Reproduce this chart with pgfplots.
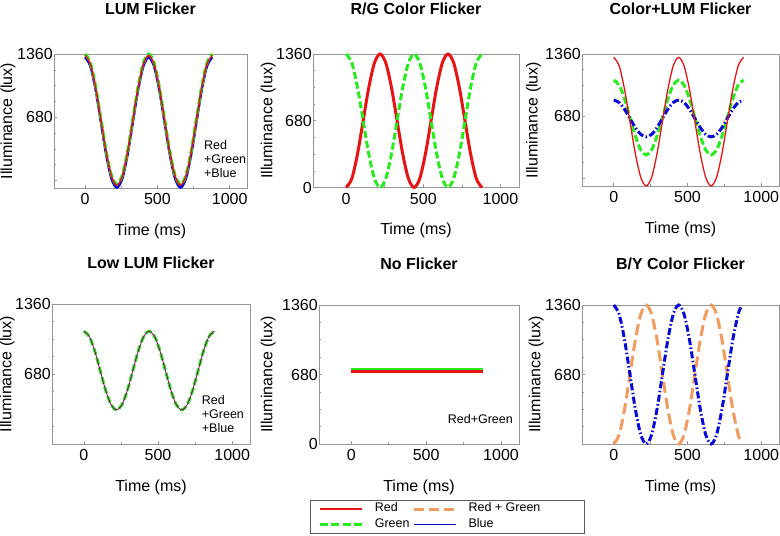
\documentclass[border=0pt]{standalone}
\usepackage{fontspec}
\setmainfont{Liberation Sans}
\usepackage{pgfplots}
\usepackage{pgfplotstable}
\pgfplotsset{compat=1.18}

\definecolor{myred}{RGB}{232,20,20}
\definecolor{mygreen}{RGB}{40,235,30}
\definecolor{myblue}{RGB}{10,10,215}
\definecolor{myorange}{RGB}{243,155,95}
\definecolor{axgray}{RGB}{150,150,150}
\definecolor{leggray}{RGB}{90,90,90}

\pgfplotstableread{
x g r b
0 1360 1345 1325
36.7 1266 1252 1231
73.3 1010 997 975
110 660 648 625
146.7 310 300 275
183.3 54 44 19
220 -40 -49 -75
256.7 54 44 19
293.3 310 300 275
330 660 648 625
366.7 1010 997 975
403.3 1266 1252 1231
440 1360 1345 1325
476.7 1266 1252 1231
513.3 1010 997 975
550 660 648 625
586.7 310 300 275
623.3 54 44 19
660 -40 -49 -75
696.7 54 44 19
733.3 310 300 275
770 660 648 625
806.7 1010 997 975
843.3 1266 1252 1231
880 1360 1345 1325
}\lumtable

\pgfplotstableread{
x r g
0 0 1360
36.7 91 1269
73.3 340 1020
110 680 680
146.7 1020 340
183.3 1269 91
220 1360 0
256.7 1269 91
293.3 1020 340
330 680 680
366.7 340 1020
403.3 91 1269
440 0 1360
476.7 91 1269
513.3 340 1020
550 680 680
586.7 1020 340
623.3 1269 91
660 1360 0
696.7 1269 91
733.3 1020 340
770 680 680
806.7 340 1020
843.3 91 1269
880 0 1360
}\rgtable

\pgfplotstableread{
x r g b
0 1324 1073 854
36.7 1229 1018 827
73.3 971 868 753
110 617 662 652
146.7 264 457 551
183.3 5 306 477
220 -90 251 450
256.7 5 306 477
293.3 264 457 551
330 617 662 652
366.7 971 868 753
403.3 1229 1018 827
440 1324 1073 854
476.7 1229 1018 827
513.3 971 868 753
550 617 662 652
586.7 264 457 551
623.3 5 306 477
660 -90 251 450
696.7 5 306 477
733.3 264 457 551
770 617 662 652
806.7 971 868 753
843.3 1229 1018 827
880 1324 1073 854
}\cltable

\pgfplotstableread{
x v
0 1095
36.7 1044
73.3 904
110 713
146.7 522
183.3 382
220 331
256.7 382
293.3 522
330 713
366.7 904
403.3 1044
440 1095
476.7 1044
513.3 904
550 713
586.7 522
623.3 382
660 331
696.7 382
733.3 522
770 713
806.7 904
843.3 1044
880 1095
}\lowtable

\pgfplotstableread{
x r g
0 712 734
880 712 734
}\notable

\pgfplotstableread{
x b o
0 1360 0
36.7 1269 91
73.3 1020 340
110 680 680
146.7 340 1020
183.3 91 1269
220 0 1360
256.7 91 1269
293.3 340 1020
330 680 680
366.7 1020 340
403.3 1269 91
440 1360 0
476.7 1269 91
513.3 1020 340
550 680 680
586.7 340 1020
623.3 91 1269
660 0 1360
696.7 91 1269
733.3 340 1020
770 680 680
806.7 1020 340
843.3 1269 91
861.7 1337 23
}\bytable

\tikzset{annot/.style={font=\fontsize{12.5}{14}\selectfont, inner sep=0pt}}

\pgfplotsset{
  panel/.style={
    scale only axis, anchor=south west,
    xmin=-215, xmax=1120, ymax=1360,
    xtick={0,500,1000}, xticklabels={0,500,1000},
    minor xtick={250,750},
    ytick={0,680,1360},
    minor ytick={170,340,510,850,1020,1190},
    tick pos=left, tick align=inside,
    major tick length=3pt, minor tick length=2pt,
    axis line style={axgray, line width=0.7pt},
    major tick style={axgray, line width=0.6pt},
    minor tick style={axgray, line width=0.6pt},
    tick label style={font=\fontsize{16}{19}\selectfont},
    yticklabel style={inner xsep=1pt},
    xticklabel style={yshift=-2pt},
    label style={font=\fontsize{16}{19}\selectfont},
    title style={font=\bfseries\fontsize{16}{19}\selectfont, at={(axis description cs:0.5,1)}, anchor=center},
    xlabel={Time (ms)}, ylabel={Illuminance (lux)},
    xlabel style={at={(axis description cs:0.5,0)}, anchor=center, yshift=-43pt},
    clip=false,
  },
  gdash/.style={mygreen, line width=3pt, dash pattern=on 7pt off 3pt},
  bdashdot/.style={myblue, line width=3pt, dash pattern=on 7pt off 2.5pt on 1.5pt off 2.5pt},
  odash/.style={myorange, line width=3pt, dash pattern=on 11pt off 5pt},
}

\begin{document}
\begin{tikzpicture}
\useasboundingbox (0,0) rectangle (780pt,536pt);

% LUM Flicker
\begin{axis}[panel, at={(54pt,348pt)}, width=193pt, height=134pt,
  ymin=-80, yticklabels={,680,1360},
  title={LUM Flicker}, title style={yshift=39.5pt},
  ylabel style={at={(axis description cs:-0.238,0.5)}, anchor=center}]
\addplot[myblue, line width=2.5pt, smooth] table[x=x, y=b] {\lumtable};
\addplot[gdash, smooth] table[x=x, y=g] {\lumtable};
\addplot[myred, line width=1.4pt, smooth] table[x=x, y=r] {\lumtable};
\node[annot, anchor=north west, align=left] at (rel axis cs:0.777,0.355) {Red\\+Green\\+Blue};
\end{axis}

% R/G Color Flicker
\begin{axis}[panel, at={(313pt,348.5pt)}, width=206pt, height=133.5pt,
  ymin=0, yticklabels={0,680,1360},
  title={R/G Color Flicker}, title style={yshift=39.5pt},
  ylabel style={at={(axis description cs:-0.217,0.5)}, anchor=center}]
\addplot[myred, line width=3pt, smooth] table[x=x, y=r] {\rgtable};
\addplot[gdash, smooth] table[x=x, y=g] {\rgtable};
\end{axis}

% Color+LUM Flicker
\begin{axis}[panel, at={(582pt,350pt)}, width=197pt, height=132pt,
  ymin=-90, yticklabels={,680,1360},
  title={Color+LUM Flicker}, title style={yshift=39.5pt},
  ylabel style={at={(axis description cs:-0.246,0.5)}, anchor=center}]
\addplot[gdash, smooth] table[x=x, y=g] {\cltable};
\addplot[bdashdot, smooth] table[x=x, y=b] {\cltable};
\addplot[myred, line width=1.3pt, smooth] table[x=x, y=r] {\cltable};
\end{axis}

% Low LUM Flicker
\begin{axis}[panel, at={(52pt,92pt)}, width=198pt, height=140pt,
  ymin=0, yticklabels={,680,1360},
  title={Low LUM Flicker}, title style={yshift=35.5pt},
  ylabel style={at={(axis description cs:-0.226,0.5)}, anchor=center}]
\addplot[gdash, smooth] table[x=x, y=v] {\lowtable};
\addplot[myred, line width=0.7pt, smooth] table[x=x, y=v] {\lowtable};
\addplot[myblue, line width=0.7pt, opacity=0.5, smooth] table[x=x, y=v] {\lowtable};
\node[annot, anchor=north west, align=left] at (rel axis cs:0.756,0.346) {Red\\+Green\\+Blue};
\end{axis}

% No Flicker
\begin{axis}[panel, at={(319pt,92pt)}, width=200pt, height=139pt,
  ymin=0, yticklabels={0,680,1360},
  title={No Flicker}, title style={yshift=35.5pt},
  ylabel style={at={(axis description cs:-0.254,0.5)}, anchor=center},
  legend columns=2, legend cell align=left,
  legend image code/.code={\draw[#1] (0pt,0pt) -- (42pt,0pt);},
  legend entries={Red, Red + Green\hspace*{34pt}, Green, Blue},
  legend style={at={(axis description cs:-0.045,-0.403)}, anchor=north west,
    draw=leggray, line width=0.6pt,
    font=\fontsize{12.5}{14}\selectfont, inner xsep=8pt, inner ysep=1pt,
    row sep=0pt, nodes={inner sep=1.5pt, text height=9pt, text depth=3.5pt},
    /tikz/every odd column/.append style={column sep=10pt},
    /tikz/every even column/.append style={column sep=1pt}}]
\addlegendimage{myred, solid, line width=2pt}
\addlegendimage{myorange, line width=3pt, dash pattern=on 10pt off 5pt}
\addlegendimage{mygreen, line width=3pt, dash pattern=on 8pt off 3.5pt}
\addlegendimage{myblue, solid, line width=1.8pt}
\addplot[myred, line width=2.6pt, forget plot] table[x=x, y=r] {\notable};
\addplot[mygreen, line width=1.1pt, forget plot] table[x=x, y=g] {\notable};
\node[annot, anchor=east] at (rel axis cs:0.97,0.18) {Red+Green};
\end{axis}

% B/Y Color Flicker
\begin{axis}[panel, at={(582pt,92pt)}, width=197pt, height=139pt,
  ymin=0, yticklabels={,680,1360},
  title={B/Y Color Flicker}, title style={yshift=35.5pt},
  ylabel style={at={(axis description cs:-0.232,0.5)}, anchor=center}]
\addplot[odash, smooth] table[x=x, y=o] {\bytable};
\addplot[bdashdot, smooth] table[x=x, y=b] {\bytable};
\end{axis}
\end{tikzpicture}
\end{document}
